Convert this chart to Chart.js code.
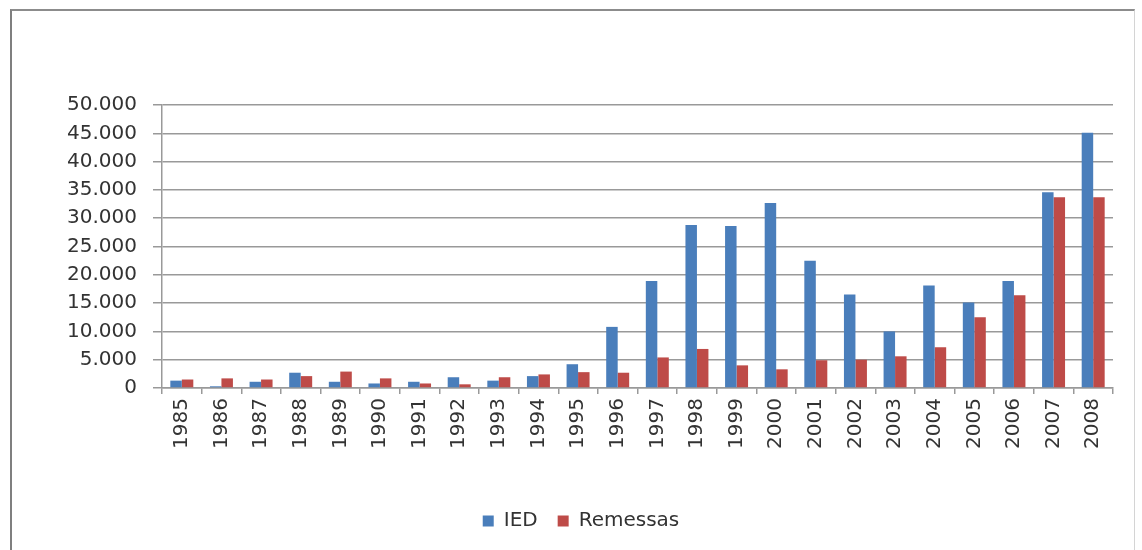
<!DOCTYPE html>
<html>
<head>
<meta charset="utf-8">
<script src="https://cdn.jsdelivr.net/npm/chart.js@4"></script>
<style>
    html, body { margin: 0; padding: 0; background: #fff; }
    #wrap { position: relative; width: 1142px; height: 550px; overflow: hidden; }
    #frame {
        position: absolute; left: 10px; top: 9px; width: 1122px; height: 600px;
        border-left: 2px solid #7f7f7f; border-top: 2px solid #8c8c8c; border-right: 1px solid #d4d4d4;
    }
    canvas { position: absolute; left: 0; top: 0; }
</style>
</head>
<body>
<div id="wrap">
    <div id="frame"></div>
    <canvas id="chart" width="1142" height="550"></canvas>
</div>
<script>
// categories and series (in US$ millions)
const years = ['1985', '1986', '1987', '1988', '1989', '1990', '1991', '1992', '1993', '1994', '1995', '1996',
               '1997', '1998', '1999', '2000', '2001', '2002', '2003', '2004', '2005', '2006', '2007', '2008'];
const ied = [1300, 300, 1100, 2700, 1100, 800, 1100, 1900, 1300, 2100, 4200, 10800,
             18900, 28800, 28600, 32700, 22500, 16500, 10000, 18100, 15100, 18900, 34600, 45100];
const remessas = [1500, 1700, 1500, 2100, 2900, 1700, 800, 650, 1900, 2400, 2800, 2700,
                  5400, 6900, 4000, 3300, 4900, 5000, 5600, 7200, 12500, 16400, 33700, 33700];
const yTicks = [0, 5000, 10000, 15000, 20000, 25000, 30000, 35000, 40000, 45000, 50000];

const fmt = v => String(v).replace(/\B(?=(\d{3})+(?!\d))/g, '.');

Chart.defaults.font.family = "'DejaVu Sans', sans-serif";
Chart.defaults.font.size = 20;
Chart.defaults.color = '#333333';

new Chart(document.getElementById('chart'), {
    type: 'bar',
    data: {
        labels: years,
        datasets: [
            { label: 'IED', data: ied, backgroundColor: '#4a7ebb' },
            { label: 'Remessas', data: remessas, backgroundColor: '#be4b48' }
        ]
    },
    options: {
        responsive: false,
        animation: false,
        layout: { padding: { left: 49, right: 29, top: 105, bottom: 9 } },
        datasets: { bar: { categoryPercentage: 0.58, barPercentage: 1.0, borderWidth: 0 } },
        plugins: {
            legend: {
                position: 'bottom',
                labels: { boxWidth: 11, boxHeight: 11, padding: 20, color: '#333333' }
            },
            tooltip: { enabled: false }
        },
        scales: {
            x: {
                ticks: { minRotation: 90, maxRotation: 90, autoSkip: false, padding: 4 },
                grid: { drawOnChartArea: false, tickLength: 6, color: '#999999', lineWidth: 1.5, offset: true },
                border: { color: '#999999', width: 1.5 },
                afterFit: s => { s.height = 103; }
            },
            y: {
                min: 0,
                max: 50000,
                afterBuildTicks: s => { s.ticks = yTicks.map(v => ({ value: v })); },
                ticks: { callback: v => fmt(v), padding: 16 },
                grid: { color: '#999999', lineWidth: 1.5, tickLength: 9 },
                border: { color: '#999999', width: 1.5 },
                afterFit: s => { s.width = 113; }
            }
        }
    }
});
</script>
</body>
</html>
